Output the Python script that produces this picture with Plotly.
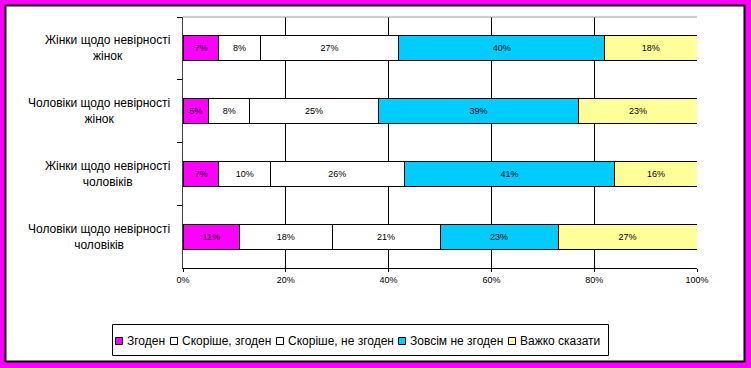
import plotly.graph_objects as go

categories = [
    "Жінки щодо невірності<br>жінок",
    "Чоловіки щодо невірності<br>жінок",
    "Жінки щодо невірності<br>чоловіків",
    "Чоловіки щодо невірності<br>чоловіків",
]
series_names = ["Згоден", "Скоріше, згоден", "Скоріше, не згоден", "Зовсім не згоден", "Важко сказати"]
agree = [7, 5, 7, 11]
rather_agree = [8, 8, 10, 18]
rather_disagree = [27, 25, 26, 21]
disagree = [40, 39, 41, 23]
hard_to_say = [18, 23, 16, 27]
series_values = [agree, rather_agree, rather_disagree, disagree, hard_to_say]
colors = ["#FF00FF", "#FFFFFF", "#FFFFFF", "#00CCFF", "#FFFF99"]
x_ticks = [0, 20, 40, 60, 80, 100]
x_tick_labels = ["0%", "20%", "40%", "60%", "80%", "100%"]

# pixel layout helpers
W, H = 751, 368
L, R, T, B = 183, 697, 17, 268
PW, PH = R - L, B - T


def px(x):
    return (x - L) / PW


def py(y):
    return (B - y) / PH


fig = go.Figure()
for name, vals, col in zip(series_names, series_values, colors):
    fig.add_trace(go.Bar(
        y=categories, x=vals, name=name, orientation="h",
        marker=dict(color=col, line=dict(color="black", width=1)),
        text=[f"{v}%" for v in vals], textposition="inside",
        insidetextanchor="middle", textangle=0,
        textfont=dict(family="Arial", size=9, color="black"),
        constraintext="none", showlegend=False, hoverinfo="x+name",
    ))

shapes = [
    # inner white panel with black border
    dict(type="rect", xref="paper", yref="paper", x0=px(5.5), x1=px(744.5), y0=py(5.5), y1=py(361.5),
         fillcolor="white", line=dict(color="black", width=2), layer="below"),
    # top border of plot area
    dict(type="line", xref="paper", yref="paper", x0=0, x1=1, y0=1, y1=1,
         line=dict(color="#A0A0A0", width=1)),
    # legend box
    dict(type="rect", xref="paper", yref="paper", x0=px(112.5), x1=px(608.5), y0=py(324.5), y1=py(355.5),
         fillcolor="white", line=dict(color="black", width=1), layer="below"),
]
annotations = []
for i, cat in enumerate(categories):
    annotations.append(dict(
        x=px(172), xref="paper", y=cat, yref="y", text=cat, showarrow=False,
        xanchor="right", yanchor="middle", align="center",
        font=dict(family="Arial", size=12, color="black"),
    ))

swatch_x = [115, 170, 276, 398, 508]
for sx, name, col in zip(swatch_x, series_names, colors):
    shapes.append(dict(type="rect", xref="paper", yref="paper", x0=px(sx + 0.5), x1=px(sx + 7.5),
                       y0=py(344.5), y1=py(337.5), fillcolor=col, line=dict(color="black", width=1)))
    annotations.append(dict(x=px(sx + 10), xref="paper", y=py(340.5), yref="paper", text=name,
                            showarrow=False, xanchor="left", yanchor="middle",
                            font=dict(family="Arial", size=12, color="black")))

fig.update_layout(
    width=W, height=H, barmode="stack", bargap=0.6,
    paper_bgcolor="#FF00FF", plot_bgcolor="white",
    margin=dict(l=L, r=W - R, t=T, b=H - B, pad=0),
    shapes=shapes, annotations=annotations, showlegend=False,
    font=dict(family="Arial", size=12, color="black"),
)
fig.update_xaxes(range=[0, 100], tickvals=x_ticks, ticktext=x_tick_labels,
                 showgrid=True, gridcolor="black", gridwidth=1,
                 showline=True, linecolor="black", linewidth=1,
                 ticks="outside", ticklen=3, tickcolor="black",
                 tickfont=dict(family="Arial", size=9, color="black"), zeroline=False)
fig.update_yaxes(categoryorder="array", categoryarray=categories, autorange="reversed",
                 showticklabels=False, showgrid=False, showline=True, linecolor="#404040", linewidth=1,
                 ticks="outside", ticklen=5, tickcolor="black", tickson="boundaries")

fig.write_html("out.html", config={"displayModeBar": False},
               post_script="document.body.style.margin='0';document.body.style.overflow='hidden';")
